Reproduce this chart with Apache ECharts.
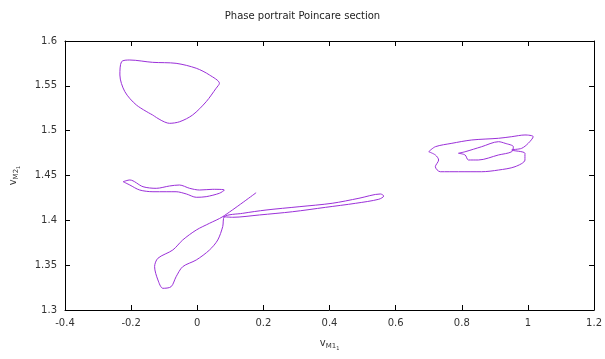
<!DOCTYPE html>
<html><head><meta charset="utf-8">
<script src="https://cdn.jsdelivr.net/npm/echarts@6/dist/echarts.min.js"></script>
<style>html,body{margin:0;padding:0;background:#fff}#c{width:605px;height:359px}</style>
</head><body><div id="c"></div>
<script>
var xTicks = [-0.4, -0.2, 0, 0.2, 0.4, 0.6, 0.8, 1, 1.2];
var yTicks = [1.3, 1.35, 1.4, 1.45, 1.5, 1.55, 1.6];

var loopTopX = [-0.135,-0.084,-0.053,-0.014,0.027,0.057,0.067,0.037,-0.003,-0.064,-0.135,-0.204,-0.229,-0.234,-0.219,-0.184,-0.135];
var loopTopY = [1.5175,1.5082,1.5100,1.5175,1.5323,1.5473,1.5528,1.5621,1.5696,1.5751,1.5762,1.5788,1.5769,1.5621,1.5435,1.5286,1.5175];

var loopMidX = [-0.224,-0.204,-0.164,-0.124,-0.084,-0.054,-0.023,0.007,0.047,0.082,0.067,0.027,-0.003,-0.033,-0.064,-0.094,-0.134,-0.174,-0.204,-0.224];
var loopMidY = [1.4431,1.4450,1.4375,1.4357,1.4383,1.4394,1.4357,1.4338,1.4346,1.4338,1.4302,1.4264,1.4257,1.4294,1.4319,1.4319,1.4319,1.4338,1.4394,1.4431];

var loopLowX = [0.178,0.077,0.037,-0.003,-0.044,-0.074,-0.119,-0.129,-0.119,-0.104,-0.079,-0.064,-0.044,-0.003,0.037,0.062,0.077,0.082,0.137,0.208,0.308,0.408,0.489,0.554,0.564,0.549,0.479,0.388,0.288,0.188,0.107,0.077];
var loopLowY = [1.4308,1.4041,1.3967,1.3892,1.3781,1.3669,1.3577,1.3483,1.3335,1.3242,1.3260,1.3371,1.3483,1.3558,1.3669,1.3781,1.3930,1.4041,1.4078,1.4115,1.4152,1.4190,1.4246,1.4294,1.4271,1.4235,1.4190,1.4145,1.4096,1.4060,1.4034,1.4041];

var loopRightX = [0.700,0.720,0.770,0.830,0.911,0.951,0.991,1.016,1.001,0.981,0.951,0.991,0.991,0.961,0.911,0.860,0.790,0.735,0.720,0.730,0.720,0.700];
var loopRightY = [1.4765,1.4821,1.4859,1.4896,1.4915,1.4933,1.4952,1.4933,1.4859,1.4803,1.4784,1.4748,1.4673,1.4598,1.4561,1.4542,1.4542,1.4542,1.4598,1.4673,1.4729,1.4765];

var loopInnerX = [0.790,0.810,0.820,0.850,0.911,0.951,0.956,0.931,0.911,0.860,0.810,0.790];
var loopInnerY = [1.4748,1.4729,1.4673,1.4673,1.4729,1.4765,1.4821,1.4859,1.4877,1.4821,1.4765,1.4748];

function pairs(xs, ys){ return xs.map(function(x,i){return [x, ys[i]];}); }

var lineColor = '#9b30d9';
function mk(xs, ys){
  return {type:'line', data:pairs(xs,ys), showSymbol:false, smooth:0.3, silent:true,
    lineStyle:{color:lineColor, width:1}, xAxisIndex:0, yAxisIndex:0};
}

var font = 'DejaVu Sans';
var axisCommon = {
  axisLine:{show:true, onZero:false, lineStyle:{color:'#000', width:1}},
  axisTick:{show:true, inside:true, length:5, lineStyle:{color:'#000'}},
  splitLine:{show:false}
};

var chart = echarts.init(document.getElementById('c'));
chart.setOption({
  animation:false,
  backgroundColor:'#fff',
  title:{text:'Phase portrait Poincare section', left:'center', top:6,
    textStyle:{fontSize:10, fontWeight:'normal', color:'#222', fontFamily:font}},
  grid:{left:65, right:9, top:41, bottom:49},
  xAxis:[
    Object.assign({type:'value', min:xTicks[0], max:xTicks[xTicks.length-1], interval:0.2, position:'bottom',
      axisLabel:{fontSize:10, color:'#333', fontFamily:font, margin:8},
      name:'{v|v}{s|M1}{ss|1}', nameLocation:'middle', nameGap:26,
      nameTextStyle:{rich:{v:{fontSize:10,color:'#333',fontFamily:font},s:{fontSize:7,color:'#333',fontFamily:font,padding:[6,0,0,0]},ss:{fontSize:5,color:'#333',fontFamily:font,padding:[10,0,0,0]}}}
    }, axisCommon),
    Object.assign({type:'value', min:xTicks[0], max:xTicks[xTicks.length-1], interval:0.2, position:'top',
      axisLabel:{show:false}}, axisCommon)
  ],
  yAxis:[
    Object.assign({type:'value', min:yTicks[0], max:yTicks[yTicks.length-1], interval:0.05, position:'left',
      axisLabel:{fontSize:10, color:'#333', fontFamily:font, margin:8},
      name:'{v|v}{s|M2}{ss|1}', nameLocation:'middle', nameGap:44, nameRotate:90,
      nameTextStyle:{rich:{v:{fontSize:10,color:'#333',fontFamily:font},s:{fontSize:7,color:'#333',fontFamily:font,padding:[6,0,0,0]},ss:{fontSize:5,color:'#333',fontFamily:font,padding:[10,0,0,0]}}}
    }, axisCommon),
    Object.assign({type:'value', min:yTicks[0], max:yTicks[yTicks.length-1], interval:0.05, position:'right',
      axisLabel:{show:false}}, axisCommon)
  ],
  series:[
    mk(loopTopX, loopTopY),
    mk(loopMidX, loopMidY),
    mk(loopLowX, loopLowY),
    mk(loopRightX, loopRightY),
    mk(loopInnerX, loopInnerY)
  ]
});
</script></body></html>
